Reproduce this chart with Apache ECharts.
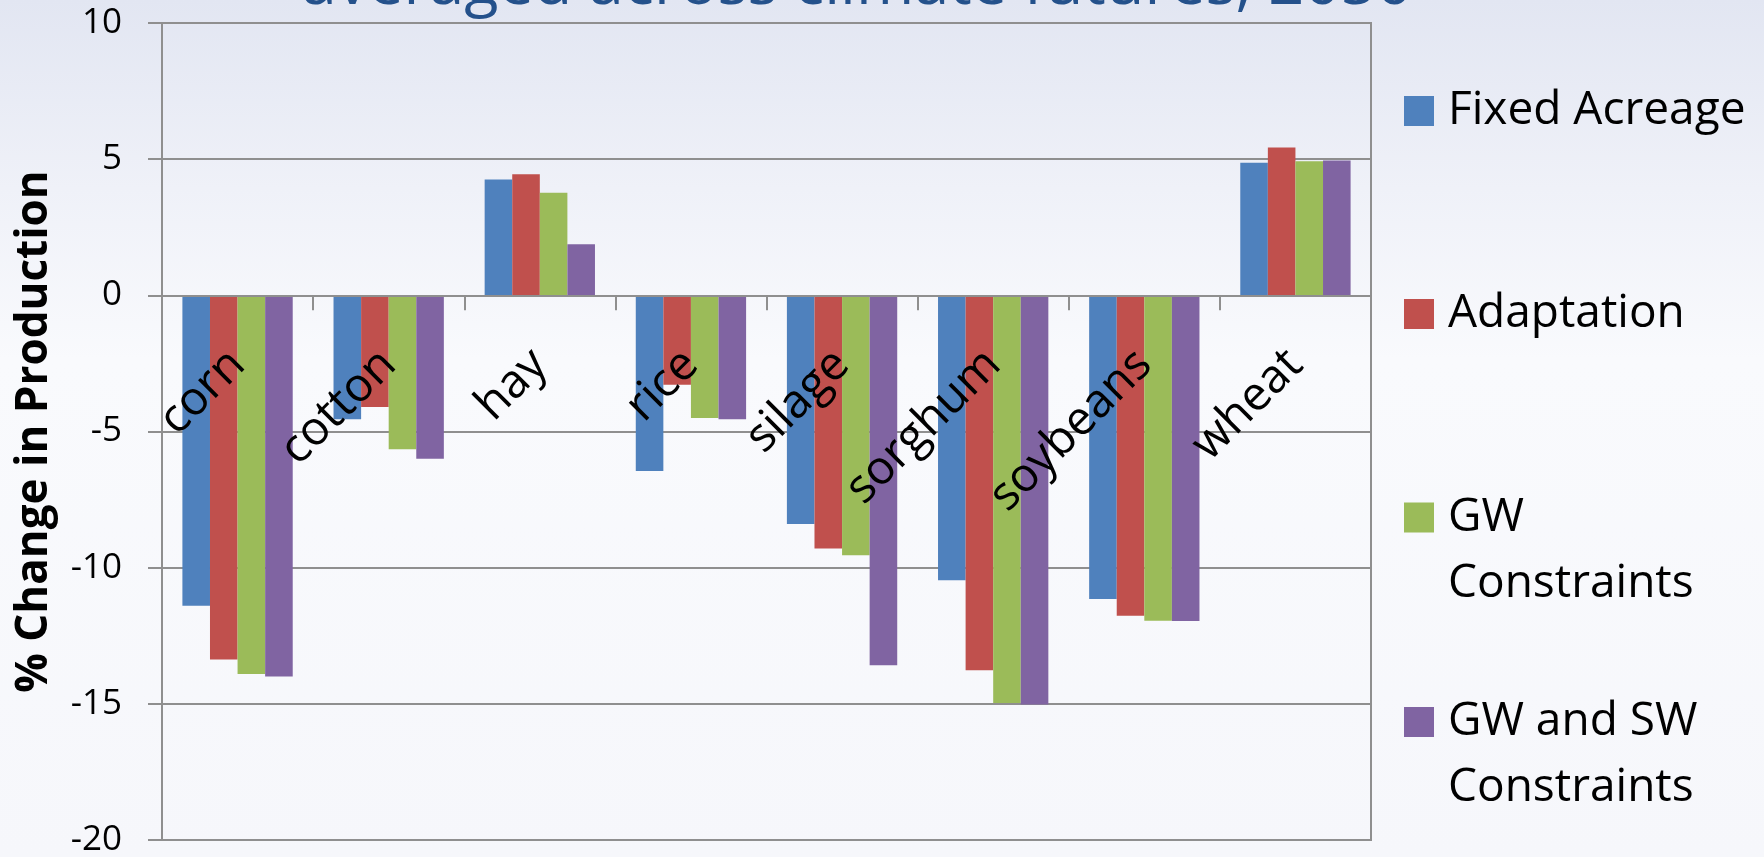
<!DOCTYPE html>
<html>
<head>
<meta charset="utf-8">
<script src="https://cdn.jsdelivr.net/npm/echarts@6/dist/echarts.min.js"></script>
<style>
  html, body { margin: 0; padding: 0; width: 1764px; height: 857px; overflow: hidden; }
  #chart { width: 1764px; height: 857px; }
</style>
</head>
<body>
<div id="chart"></div>
<script>
// Crops and scenario results (% change in production)
const crops = ['corn', 'cotton', 'hay', 'rice', 'silage', 'sorghum', 'soybeans', 'wheat'];
const fixedAcreage = [-11.4, -4.55, 4.25, -6.45, -8.4, -10.46, -11.15, 4.87];
const adaptation = [-13.37, -4.1, 4.45, -3.28, -9.3, -13.77, -11.77, 5.43];
const gwConstraints = [-13.9, -5.65, 3.77, -4.5, -9.54, -14.97, -11.95, 4.92];
const gwSwConstraints = [-14.0, -6.0, 1.88, -4.55, -13.58, -15.02, -11.96, 4.95];
const seriesNames = ['Fixed Acreage', 'Adaptation', 'GW\nConstraints', 'GW and SW\nConstraints'];
const seriesColors = ['#4f81bd', '#c0504d', '#9bbb59', '#8064a2'];
const yTicks = { min: -20, max: 10, step: 5 };
const titleText = 'averaged across climate futures, 2050';

const FONT = '"Open Sans", "Noto Sans", sans-serif';
const GRID_COLOR = '#8f8f8f';

const seriesData = [fixedAcreage, adaptation, gwConstraints, gwSwConstraints];

// Plot rectangle
const GRID = { left: 162, right: 393, top: 23, bottom: 17 };
const plotHeight = 857 - GRID.top - GRID.bottom;
// The category axis sits on the zero line: shift it up from the bottom edge.
const zeroOffset = -plotHeight * (0 - yTicks.min) / (yTicks.max - yTicks.min);

// One legend block per series so each entry sits at its own height.
// Two-line entries get an empty leading line so the swatch lines up
// with the first line of text instead of the middle of the block.
const legendTops = [78, 281, 418.5, 623];
const legends = seriesNames.map((name, i) => ({
  orient: 'vertical',
  left: 1404,
  top: legendTops[i],
  padding: 0,
  icon: 'rect',
  itemWidth: 30,
  itemHeight: 30,
  selectedMode: false,
  formatter: n => (n.indexOf('\n') >= 0 ? '\n' + n : n),
  textStyle: {
    fontFamily: FONT,
    fontSize: 46,
    lineHeight: 66,
    color: '#000000',
    padding: [0, 0, 0, 9]
  },
  data: [name]
}));

const chart = echarts.init(document.getElementById('chart'), null, { renderer: 'canvas' });

chart.setOption({
  animation: false,
  backgroundColor: {
    type: 'linear', x: 0, y: 0, x2: 0, y2: 1,
    colorStops: [
      { offset: 0, color: '#e2e6f2' },
      { offset: 0.22, color: '#eff1f8' },
      { offset: 0.42, color: '#f9fafd' },
      { offset: 1, color: '#f6f7fb' }
    ]
  },
  graphic: [{
    type: 'text',
    x: 857,
    y: -14,
    silent: true,
    style: {
      text: titleText,
      align: 'center',
      verticalAlign: 'middle',
      fontFamily: FONT,
      fontSize: 63,
      fill: '#24518b'
    }
  }],
  legend: legends,
  grid: {
    left: GRID.left,
    right: GRID.right,
    top: GRID.top,
    bottom: GRID.bottom,
    show: true,
    borderColor: GRID_COLOR,
    borderWidth: 2,
    backgroundColor: 'transparent',
    containLabel: false,
    outerBoundsMode: 'none'
  },
  xAxis: {
    type: 'category',
    data: crops,
    position: 'bottom',
    offset: zeroOffset,
    z: 10,
    axisLine: { show: true, onZero: false, lineStyle: { color: GRID_COLOR, width: 2 } },
    axisTick: { show: true, length: 15, lineStyle: { color: GRID_COLOR, width: 2 } },
    axisLabel: {
      show: true,
      interval: 0,
      hideOverlap: false,
      rotate: 45,
      margin: 62,
      fontFamily: FONT,
      fontSize: 47,
      color: '#000000'
    },
    splitLine: { show: false }
  },
  yAxis: {
    type: 'value',
    min: yTicks.min,
    max: yTicks.max,
    interval: yTicks.step,
    name: '% Change in Production',
    nameLocation: 'middle',
    nameGap: 106,
    nameTextStyle: {
      fontFamily: FONT,
      fontSize: 44,
      fontWeight: 'bold',
      color: '#000000'
    },
    axisLine: { show: true, lineStyle: { color: GRID_COLOR, width: 2 } },
    axisTick: { show: true, length: 14, lineStyle: { color: GRID_COLOR, width: 2 } },
    axisLabel: {
      margin: 40,
      fontFamily: FONT,
      fontSize: 35,
      color: '#000000'
    },
    splitLine: { show: true, lineStyle: { color: GRID_COLOR, width: 2 } }
  },
  series: seriesNames.map((name, i) => ({
    name: name,
    type: 'bar',
    data: seriesData[i],
    barGap: '0%',
    barCategoryGap: '27%',
    itemStyle: { color: seriesColors[i] }
  }))
});
</script>
</body>
</html>
